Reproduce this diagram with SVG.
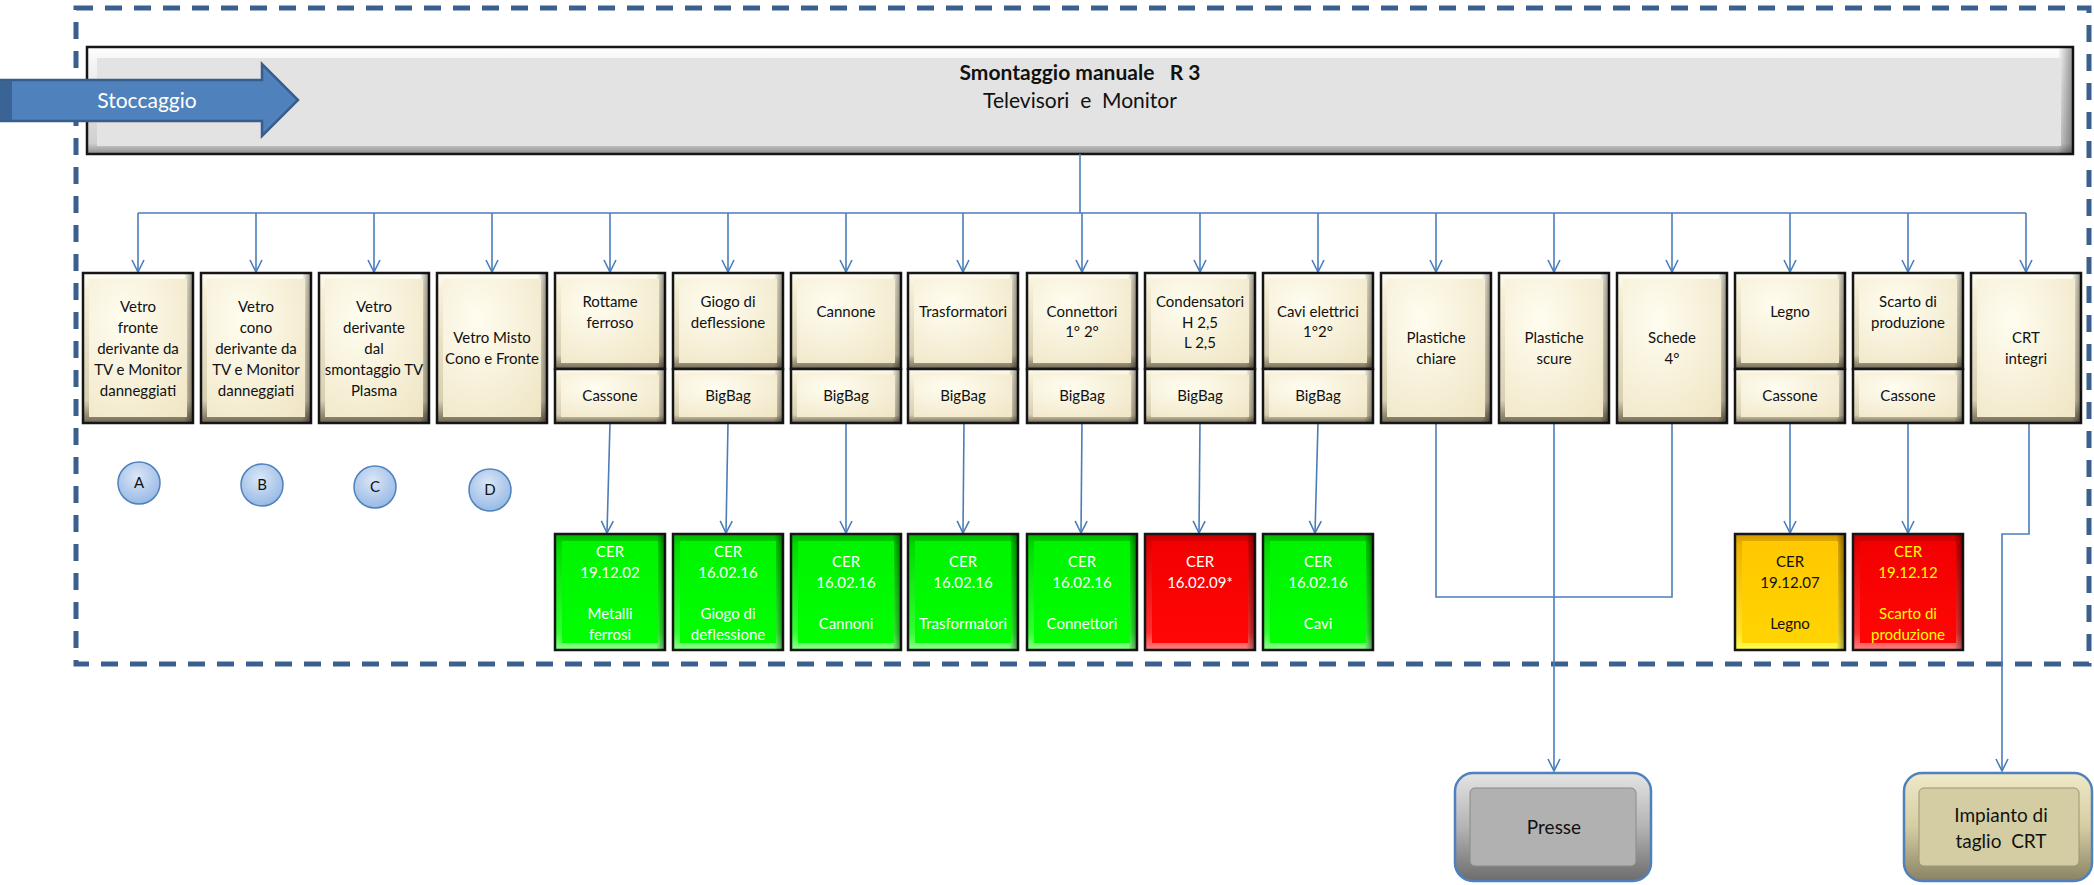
<svg xmlns="http://www.w3.org/2000/svg" width="2094" height="885" viewBox="0 0 2094 885">
<style>
.t{font-family:Lato,'Liberation Sans',sans-serif;font-size:15px;text-anchor:middle;fill:#111}
.w{fill:#fff}
.y{fill:#ffff00}
.big{font-size:19px}
.o{fill:url(#cOut);stroke:#161616;stroke-width:2.5}
.s{fill:url(#side)}
.i{fill:url(#cIn)}
.go{fill:url(#gOut);stroke:#161616;stroke-width:2.5}
.gi{fill:url(#gIn)}
.ro{fill:url(#rOut);stroke:#161616;stroke-width:2.5}
.ri{fill:url(#rIn)}
.yo{fill:url(#yOut);stroke:#161616;stroke-width:2.5}
.yi{fill:url(#yIn)}
.c{fill:url(#circ);stroke:#4f81bd;stroke-width:1.5}
.ln{fill:none;stroke:#4a7ebb;stroke-width:1.6}
.ar{marker-end:url(#arr)}
</style>
<defs>
<marker id="arr" viewBox="0 0 14 14" refX="13" refY="7" markerWidth="14" markerHeight="14" markerUnits="userSpaceOnUse" orient="auto">
<path d="M1,1 L13,7 L1,13" fill="none" stroke="#4a7ebb" stroke-width="1.6"/>
</marker>
<linearGradient id="cOut" x1="0" y1="0" x2="0" y2="1"><stop offset="0" stop-color="#fffef6"/><stop offset="0.1" stop-color="#f8f1da"/><stop offset="0.85" stop-color="#d8cfb2"/><stop offset="1" stop-color="#6f6854"/></linearGradient>
<linearGradient id="side" x1="0" y1="0" x2="1" y2="0"><stop offset="0" stop-color="#000" stop-opacity="0"/><stop offset="0.92" stop-color="#000" stop-opacity="0"/><stop offset="1" stop-color="#000" stop-opacity="0.45"/></linearGradient>
<radialGradient id="cIn" cx="0.35" cy="0.3" r="0.9"><stop offset="0" stop-color="#fffdf0"/><stop offset="1" stop-color="#f0e6c6"/></radialGradient>
<linearGradient id="gOut" x1="0" y1="0" x2="0" y2="1"><stop offset="0" stop-color="#00b400"/><stop offset="0.1" stop-color="#00dc00"/><stop offset="0.85" stop-color="#30ff30"/><stop offset="1" stop-color="#90ff90"/></linearGradient>
<linearGradient id="gIn" x1="0" y1="0" x2="0" y2="1"><stop offset="0" stop-color="#00f400"/><stop offset="1" stop-color="#00ff00"/></linearGradient>
<linearGradient id="rOut" x1="0" y1="0" x2="0" y2="1"><stop offset="0" stop-color="#c40000"/><stop offset="0.1" stop-color="#e40000"/><stop offset="0.85" stop-color="#ff3030"/><stop offset="1" stop-color="#ff8080"/></linearGradient>
<linearGradient id="rIn" x1="0" y1="0" x2="0" y2="1"><stop offset="0" stop-color="#f20000"/><stop offset="1" stop-color="#ff0606"/></linearGradient>
<linearGradient id="yOut" x1="0" y1="0" x2="0" y2="1"><stop offset="0" stop-color="#d29800"/><stop offset="0.1" stop-color="#ecb400"/><stop offset="0.85" stop-color="#ffe030"/><stop offset="1" stop-color="#ffff50"/></linearGradient>
<linearGradient id="yIn" x1="0" y1="0" x2="0" y2="1"><stop offset="0" stop-color="#ffc800"/><stop offset="1" stop-color="#ffd400"/></linearGradient>
<linearGradient id="hOut" x1="0" y1="0" x2="0" y2="1"><stop offset="0" stop-color="#ffffff"/><stop offset="0.12" stop-color="#f6f6f6"/><stop offset="0.9" stop-color="#cfcfcf"/><stop offset="1" stop-color="#8c8c8c"/></linearGradient>
<linearGradient id="hSide" gradientUnits="userSpaceOnUse" x1="2058" y1="0" x2="2073" y2="0"><stop offset="0" stop-color="#000" stop-opacity="0"/><stop offset="1" stop-color="#000" stop-opacity="0.4"/></linearGradient>
<radialGradient id="circ" cx="0.45" cy="0.35" r="0.7"><stop offset="0" stop-color="#dbe7f7"/><stop offset="1" stop-color="#93b6e4"/></radialGradient>
<linearGradient id="pOut" x1="0" y1="0" x2="0" y2="1"><stop offset="0" stop-color="#e4e4e4"/><stop offset="0.5" stop-color="#b4b4b4"/><stop offset="1" stop-color="#6c6c6c"/></linearGradient>
<linearGradient id="iOut" x1="0" y1="0" x2="0" y2="1"><stop offset="0" stop-color="#efe9c8"/><stop offset="0.5" stop-color="#d4cda3"/><stop offset="1" stop-color="#8a8363"/></linearGradient>
</defs>

<rect id="border" x="76" y="8" width="2013" height="656" fill="none" stroke="#3b5f8e" stroke-width="5" stroke-dasharray="17 12"/>

<g id="header">
<rect x="87" y="47" width="1986" height="107" fill="url(#hOut)" stroke="#161616" stroke-width="2.5"/>
<rect x="87" y="47" width="1986" height="107" fill="url(#hSide)"/>
<rect x="97" y="58" width="1964" height="88" fill="#e3e3e3"/>
<text class="t" x="1080" y="80" style="font-size:21px;font-weight:bold;white-space:pre" xml:space="preserve">Smontaggio manuale   R 3</text>
<text class="t" x="1080" y="108" style="font-size:21px;white-space:pre" xml:space="preserve">Televisori  e  Monitor</text>
</g>

<g id="stoccaggio">
<polygon points="0,80 262,80 262,64 298,100 262,136 262,121 0,121" fill="#4f81bd" stroke="#385d8a" stroke-width="2.5"/>
<rect x="0" y="81" width="12" height="39" fill="#3b6496"/>
<text class="t w" x="147" y="108" style="font-size:21px">Stoccaggio</text>
</g>

<g id="connectors">
<path class="ln" d="M1080,154 V213 M138,213 H2026"/>
<path class="ln ar" d="M138,213 V272"/>
<path class="ln ar" d="M256,213 V272"/>
<path class="ln ar" d="M374,213 V272"/>
<path class="ln ar" d="M492,213 V272"/>
<path class="ln ar" d="M610,213 V272"/>
<path class="ln ar" d="M728,213 V272"/>
<path class="ln ar" d="M846,213 V272"/>
<path class="ln ar" d="M963,213 V272"/>
<path class="ln ar" d="M1082,213 V272"/>
<path class="ln ar" d="M1200,213 V272"/>
<path class="ln ar" d="M1318,213 V272"/>
<path class="ln ar" d="M1436,213 V272"/>
<path class="ln ar" d="M1554,213 V272"/>
<path class="ln ar" d="M1672,213 V272"/>
<path class="ln ar" d="M1790,213 V272"/>
<path class="ln ar" d="M1908,213 V272"/>
<path class="ln ar" d="M2026,213 V272"/>
<path class="ln ar" d="M610,423 L607,533"/>
<path class="ln ar" d="M728,423 L726,533"/>
<path class="ln ar" d="M846,423 L846,533"/>
<path class="ln ar" d="M964,423 L963,533"/>
<path class="ln ar" d="M1082,423 L1081,533"/>
<path class="ln ar" d="M1200,423 L1199,533"/>
<path class="ln ar" d="M1318,423 L1315,533"/>
<path class="ln ar" d="M1790,423 V533"/>
<path class="ln ar" d="M1908,423 V533"/>
<path class="ln" d="M1436,423 V597 H1672 V423"/>
<path class="ln ar" d="M1554,423 V771"/>
<path class="ln ar" d="M2029,423 V534 H2002 V771"/>
</g>

<g id="n1"><rect class="o" x="83" y="273" width="110" height="150"/><rect class="s" x="83" y="273" width="110" height="150"/><rect class="i" x="89" y="279" width="98" height="138"/>
<text class="t" x="138" y="312">Vetro</text><text class="t" x="138" y="333">fronte</text><text class="t" x="138" y="354">derivante da</text><text class="t" x="138" y="375">TV e Monitor</text><text class="t" x="138" y="396">danneggiati</text></g>
<g id="n2"><rect class="o" x="201" y="273" width="110" height="150"/><rect class="s" x="201" y="273" width="110" height="150"/><rect class="i" x="207" y="279" width="98" height="138"/>
<text class="t" x="256" y="312">Vetro</text><text class="t" x="256" y="333">cono</text><text class="t" x="256" y="354">derivante da</text><text class="t" x="256" y="375">TV e Monitor</text><text class="t" x="256" y="396">danneggiati</text></g>
<g id="n3"><rect class="o" x="319" y="273" width="110" height="150"/><rect class="s" x="319" y="273" width="110" height="150"/><rect class="i" x="325" y="279" width="98" height="138"/>
<text class="t" x="374" y="312">Vetro</text><text class="t" x="374" y="333">derivante</text><text class="t" x="374" y="354">dal</text><text class="t" x="374" y="375">smontaggio TV</text><text class="t" x="374" y="396">Plasma</text></g>
<g id="n4"><rect class="o" x="437" y="273" width="110" height="150"/><rect class="s" x="437" y="273" width="110" height="150"/><rect class="i" x="443" y="279" width="98" height="138"/>
<text class="t" x="492" y="343">Vetro Misto</text><text class="t" x="492" y="364">Cono e Fronte</text></g>

<g id="n5"><rect class="o" x="555" y="273" width="110" height="96"/><rect class="s" x="555" y="273" width="110" height="96"/><rect class="i" x="561" y="279" width="98" height="84"/>
<rect class="o" x="555" y="369" width="110" height="54"/><rect class="s" x="555" y="369" width="110" height="54"/><rect class="i" x="561" y="375" width="98" height="42"/>
<text class="t" x="610" y="307">Rottame</text><text class="t" x="610" y="328">ferroso</text><text class="t" x="610" y="401">Cassone</text></g>
<g id="n6"><rect class="o" x="673" y="273" width="110" height="96"/><rect class="s" x="673" y="273" width="110" height="96"/><rect class="i" x="679" y="279" width="98" height="84"/>
<rect class="o" x="673" y="369" width="110" height="54"/><rect class="s" x="673" y="369" width="110" height="54"/><rect class="i" x="679" y="375" width="98" height="42"/>
<text class="t" x="728" y="307">Giogo di</text><text class="t" x="728" y="328">deflessione</text><text class="t" x="728" y="401">BigBag</text></g>
<g id="n7"><rect class="o" x="791" y="273" width="110" height="96"/><rect class="s" x="791" y="273" width="110" height="96"/><rect class="i" x="797" y="279" width="98" height="84"/>
<rect class="o" x="791" y="369" width="110" height="54"/><rect class="s" x="791" y="369" width="110" height="54"/><rect class="i" x="797" y="375" width="98" height="42"/>
<text class="t" x="846" y="317">Cannone</text><text class="t" x="846" y="401">BigBag</text></g>
<g id="n8"><rect class="o" x="908" y="273" width="110" height="96"/><rect class="s" x="908" y="273" width="110" height="96"/><rect class="i" x="914" y="279" width="98" height="84"/>
<rect class="o" x="908" y="369" width="110" height="54"/><rect class="s" x="908" y="369" width="110" height="54"/><rect class="i" x="914" y="375" width="98" height="42"/>
<text class="t" x="963" y="317">Trasformatori</text><text class="t" x="963" y="401">BigBag</text></g>
<g id="n9"><rect class="o" x="1027" y="273" width="110" height="96"/><rect class="s" x="1027" y="273" width="110" height="96"/><rect class="i" x="1033" y="279" width="98" height="84"/>
<rect class="o" x="1027" y="369" width="110" height="54"/><rect class="s" x="1027" y="369" width="110" height="54"/><rect class="i" x="1033" y="375" width="98" height="42"/>
<text class="t" x="1082" y="317">Connettori</text><text class="t" x="1082" y="337">1° 2°</text><text class="t" x="1082" y="401">BigBag</text></g>
<g id="n10"><rect class="o" x="1145" y="273" width="110" height="96"/><rect class="s" x="1145" y="273" width="110" height="96"/><rect class="i" x="1151" y="279" width="98" height="84"/>
<rect class="o" x="1145" y="369" width="110" height="54"/><rect class="s" x="1145" y="369" width="110" height="54"/><rect class="i" x="1151" y="375" width="98" height="42"/>
<text class="t" x="1200" y="307">Condensatori</text><text class="t" x="1200" y="328">H 2,5</text><text class="t" x="1200" y="348">L 2,5</text><text class="t" x="1200" y="401">BigBag</text></g>
<g id="n11"><rect class="o" x="1263" y="273" width="110" height="96"/><rect class="s" x="1263" y="273" width="110" height="96"/><rect class="i" x="1269" y="279" width="98" height="84"/>
<rect class="o" x="1263" y="369" width="110" height="54"/><rect class="s" x="1263" y="369" width="110" height="54"/><rect class="i" x="1269" y="375" width="98" height="42"/>
<text class="t" x="1318" y="317">Cavi elettrici</text><text class="t" x="1318" y="337">1°2°</text><text class="t" x="1318" y="401">BigBag</text></g>
<g id="n12"><rect class="o" x="1381" y="273" width="110" height="150"/><rect class="s" x="1381" y="273" width="110" height="150"/><rect class="i" x="1387" y="279" width="98" height="138"/>
<text class="t" x="1436" y="343">Plastiche</text><text class="t" x="1436" y="364">chiare</text></g>
<g id="n13"><rect class="o" x="1499" y="273" width="110" height="150"/><rect class="s" x="1499" y="273" width="110" height="150"/><rect class="i" x="1505" y="279" width="98" height="138"/>
<text class="t" x="1554" y="343">Plastiche</text><text class="t" x="1554" y="364">scure</text></g>
<g id="n14"><rect class="o" x="1617" y="273" width="110" height="150"/><rect class="s" x="1617" y="273" width="110" height="150"/><rect class="i" x="1623" y="279" width="98" height="138"/>
<text class="t" x="1672" y="343">Schede</text><text class="t" x="1672" y="364">4°</text></g>
<g id="n15"><rect class="o" x="1735" y="273" width="110" height="96"/><rect class="s" x="1735" y="273" width="110" height="96"/><rect class="i" x="1741" y="279" width="98" height="84"/>
<rect class="o" x="1735" y="369" width="110" height="54"/><rect class="s" x="1735" y="369" width="110" height="54"/><rect class="i" x="1741" y="375" width="98" height="42"/>
<text class="t" x="1790" y="317">Legno</text><text class="t" x="1790" y="401">Cassone</text></g>
<g id="n16"><rect class="o" x="1853" y="273" width="110" height="96"/><rect class="s" x="1853" y="273" width="110" height="96"/><rect class="i" x="1859" y="279" width="98" height="84"/>
<rect class="o" x="1853" y="369" width="110" height="54"/><rect class="s" x="1853" y="369" width="110" height="54"/><rect class="i" x="1859" y="375" width="98" height="42"/>
<text class="t" x="1908" y="307">Scarto di</text><text class="t" x="1908" y="328">produzione</text><text class="t" x="1908" y="401">Cassone</text></g>
<g id="n17"><rect class="o" x="1971" y="273" width="110" height="150"/><rect class="s" x="1971" y="273" width="110" height="150"/><rect class="i" x="1977" y="279" width="98" height="138"/>
<text class="t" x="2026" y="343">CRT</text><text class="t" x="2026" y="364">integri</text></g>

<g id="cA"><circle class="c" cx="139" cy="483" r="21"/><text class="t" x="139" y="488">A</text></g>
<g id="cB"><circle class="c" cx="262" cy="485" r="21"/><text class="t" x="262" y="490">B</text></g>
<g id="cC"><circle class="c" cx="375" cy="487" r="21"/><text class="t" x="375" y="492">C</text></g>
<g id="cD"><circle class="c" cx="490" cy="490" r="21"/><text class="t" x="490" y="495">D</text></g>

<g id="cer1"><rect class="go" x="555" y="534" width="110" height="116"/><rect class="s" x="555" y="534" width="110" height="116"/><rect class="gi" x="562" y="541" width="96" height="102"/>
<text class="t w" x="610" y="557">CER</text><text class="t w" x="610" y="578">19.12.02</text><text class="t w" x="610" y="619">Metalli</text><text class="t w" x="610" y="640">ferrosi</text></g>
<g id="cer2"><rect class="go" x="673" y="534" width="110" height="116"/><rect class="s" x="673" y="534" width="110" height="116"/><rect class="gi" x="680" y="541" width="96" height="102"/>
<text class="t w" x="728" y="557">CER</text><text class="t w" x="728" y="578">16.02.16</text><text class="t w" x="728" y="619">Giogo di</text><text class="t w" x="728" y="640">deflessione</text></g>
<g id="cer3"><rect class="go" x="791" y="534" width="110" height="116"/><rect class="s" x="791" y="534" width="110" height="116"/><rect class="gi" x="798" y="541" width="96" height="102"/>
<text class="t w" x="846" y="567">CER</text><text class="t w" x="846" y="588">16.02.16</text><text class="t w" x="846" y="629">Cannoni</text></g>
<g id="cer4"><rect class="go" x="908" y="534" width="110" height="116"/><rect class="s" x="908" y="534" width="110" height="116"/><rect class="gi" x="915" y="541" width="96" height="102"/>
<text class="t w" x="963" y="567">CER</text><text class="t w" x="963" y="588">16.02.16</text><text class="t w" x="963" y="629">Trasformatori</text></g>
<g id="cer5"><rect class="go" x="1027" y="534" width="110" height="116"/><rect class="s" x="1027" y="534" width="110" height="116"/><rect class="gi" x="1034" y="541" width="96" height="102"/>
<text class="t w" x="1082" y="567">CER</text><text class="t w" x="1082" y="588">16.02.16</text><text class="t w" x="1082" y="629">Connettori</text></g>
<g id="cer6"><rect class="ro" x="1145" y="534" width="110" height="116"/><rect class="s" x="1145" y="534" width="110" height="116"/><rect class="ri" x="1152" y="541" width="96" height="102"/>
<text class="t w" x="1200" y="567">CER</text><text class="t w" x="1200" y="588">16.02.09*</text></g>
<g id="cer7"><rect class="go" x="1263" y="534" width="110" height="116"/><rect class="s" x="1263" y="534" width="110" height="116"/><rect class="gi" x="1270" y="541" width="96" height="102"/>
<text class="t w" x="1318" y="567">CER</text><text class="t w" x="1318" y="588">16.02.16</text><text class="t w" x="1318" y="629">Cavi</text></g>
<g id="cer8"><rect class="yo" x="1735" y="534" width="110" height="116"/><rect class="s" x="1735" y="534" width="110" height="116"/><rect class="yi" x="1742" y="541" width="96" height="102"/>
<text class="t" x="1790" y="567">CER</text><text class="t" x="1790" y="588">19.12.07</text><text class="t" x="1790" y="629">Legno</text></g>
<g id="cer9"><rect class="ro" x="1853" y="534" width="110" height="116"/><rect class="s" x="1853" y="534" width="110" height="116"/><rect class="ri" x="1860" y="541" width="96" height="102"/>
<text class="t y" x="1908" y="557">CER</text><text class="t y" x="1908" y="578">19.12.12</text><text class="t y" x="1908" y="619">Scarto di</text><text class="t y" x="1908" y="640">produzione</text></g>

<g id="presse"><rect x="1455" y="773" width="196" height="108" rx="18" fill="url(#pOut)" stroke="#4f81bd" stroke-width="2.5"/>
<rect x="1470" y="788" width="166" height="78" rx="5" fill="#b1b1b1" stroke="#8a8a8a" stroke-width="1"/>
<text class="t big" x="1554" y="834">Presse</text></g>
<g id="impianto"><rect x="1904" y="773" width="188" height="108" rx="18" fill="url(#iOut)" stroke="#4f81bd" stroke-width="2.5"/>
<rect x="1919" y="788" width="160" height="78" rx="5" fill="#d4cda4" stroke="#9a9474" stroke-width="1"/>
<text class="t big" x="2001" y="822">Impianto di</text><text class="t big" x="2001" y="848" style="white-space:pre" xml:space="preserve">taglio  CRT</text></g>
</svg>
